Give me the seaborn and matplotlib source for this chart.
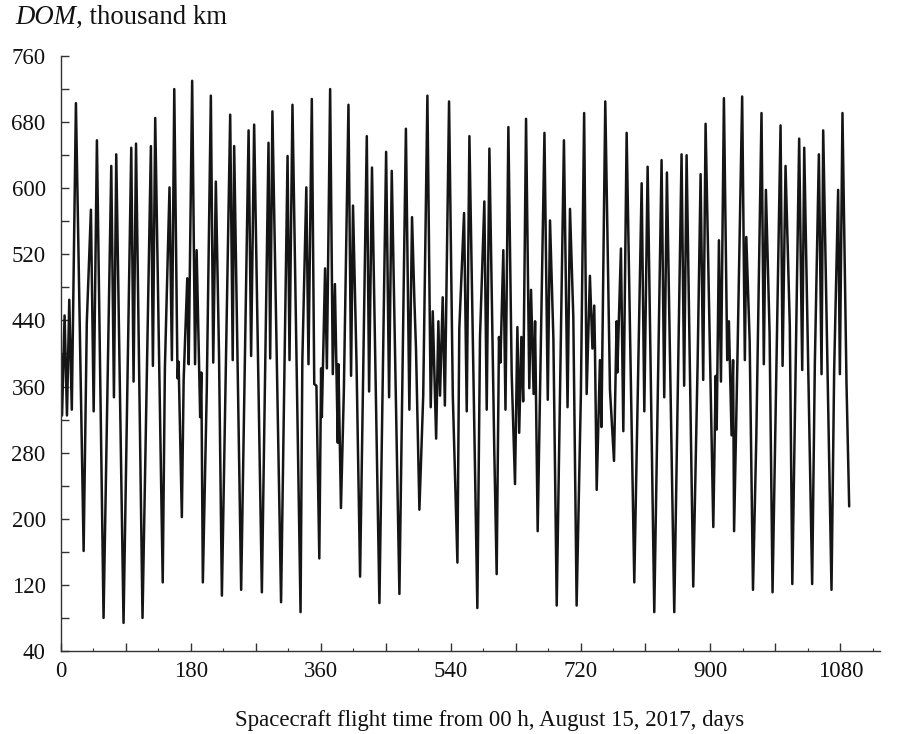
import matplotlib
matplotlib.use("Agg")
import matplotlib.pyplot as plt
import seaborn as sns
import pandas as pd

# turning points of the distance curve (day, thousand km)
days = [
    0, 1.5, 5, 8.3, 11.5, 15, 20.7, 31.4, 35.8, 41.5, 45.3, 49.8, 59, 69.7, 73.4, 76.6,
    86.7, 97.4, 100.6, 104, 113, 124.6, 127.4, 130.6, 141, 144, 150.4, 153.7, 157,
    161.5, 163, 167.5, 170, 175, 177, 181.8, 185.8, 188, 192.9, 194.5, 196.6, 202,
    207.7, 211, 214.6, 219, 223, 234.5, 238, 240, 249.7, 260, 263.5, 267.7, 278.4,
    287.6, 289.9, 293, 305, 314, 316.7, 320.8, 332, 334.5, 340, 343, 347.6, 351, 354,
    358, 360.5, 361.5, 366, 368.5, 373, 376.7, 379.6, 383.6, 384.5, 388, 392, 398.4,
    402, 404.7, 409.6, 414.5, 423.8, 427, 431, 441.3, 450.6, 454.7, 458.4, 469, 478,
    482.8, 486.5, 489.8, 492, 496.7, 502, 507.8, 512.4, 515.2, 519.9, 523, 525.3, 529,
    532, 537.8, 543, 549.4, 552, 558.6, 562.3, 566, 577, 580.7, 586.7, 590, 593.7,
    600.5, 603.8, 607, 609, 613, 616, 620, 624.6, 629.2, 632.5, 635, 638, 640.5, 644.5,
    649, 651.4, 655, 657, 660.6, 670, 674.6, 677.7, 682.4, 687, 697, 702, 705.4, 710,
    714.6, 720.5, 725, 728.5, 733, 736.5, 739, 740, 742.4, 746.9, 749, 754.3, 760.8,
    766.4, 770, 771, 776, 779.3, 783.9, 794.5, 800, 804.7, 808.4, 813, 822.2, 832.3,
    836, 839.7, 849.9, 860, 863.6, 867, 876.2, 882.2, 886.4, 890, 893.3, 904, 907.3,
    908.7, 911.8, 914.6, 918.7, 923.3, 925.6, 929.3, 931.4, 932.8, 937.3, 944, 947.7,
    949.7, 954.4, 959, 963.6, 970.8, 974, 976.9, 982, 986.1, 997.2, 1000, 1004.1,
    1010, 1013.5, 1023, 1027.2, 1030, 1041, 1044.7, 1050.3, 1054, 1056.3, 1067.8,
    1071.5, 1077, 1079.4, 1083, 1088.6, 1092.3,
]
dom = [
    400, 325, 446, 325, 465, 332, 703, 161, 438, 574, 330, 658, 80, 627, 347, 641,
    74, 649, 366, 654, 80, 651, 385, 685, 123, 382, 601, 392, 720,
    370, 390, 202, 368, 491, 387, 730, 387, 525, 323, 377, 123, 354,
    712, 389, 608, 400, 107, 689, 392, 651, 114, 670, 397, 677, 111,
    655, 394, 693, 99, 639, 392, 701, 87, 392, 601, 387, 708, 363, 361,
    152, 382, 323, 503, 382, 720, 375, 484, 292, 387, 213, 354, 701,
    373, 579, 387, 130, 663, 354, 625, 98, 644, 347, 621, 109, 672,
    332, 565, 463, 406, 211, 349, 712, 335, 451, 297, 439, 349, 468,
    337, 705, 349, 147, 430, 570, 330, 663, 92, 420, 584, 332, 648,
    282, 133, 420, 389, 525, 332, 674, 375, 242, 432, 304, 420, 342, 684,
    358, 477, 351, 439, 185, 667, 344, 561, 418, 95, 658, 335, 575, 444,
    95, 351, 691, 351, 494, 406, 458, 406, 235, 392, 311, 705, 356,
    270, 439, 377, 527, 306, 667, 123, 387, 606, 330, 626, 87, 634,
    347, 619, 87, 641, 361, 640, 118, 385, 617, 368, 678, 190, 373,
    308, 537, 366, 709, 392, 439, 301, 392, 185, 387, 711, 392,
    541, 415, 114, 299, 691, 387, 598, 425, 111, 676, 385, 627,
    434, 121, 660, 380, 649, 121, 387, 641, 375, 670, 114,
    380, 598, 375, 691, 363, 215,
]

x_ticks = list(range(0, 1081, 90))
x_labels = [str(t) if t % 180 == 0 else "" for t in x_ticks]
y_ticks = list(range(40, 761, 40))
y_labels = [str(t) if (t - 40) % 80 == 0 else "" for t in y_ticks]

df = pd.DataFrame({"day": days, "dom": dom})

sns.set_style("ticks")
plt.rcParams["font.family"] = ["Liberation Serif", "DejaVu Serif"]

fig = plt.figure(figsize=(9.02, 7.34), dpi=100)
ax = fig.add_axes([0.0676, 0.1131, 0.9080, 0.8106])

sns.lineplot(data=df, x="day", y="dom", sort=False, estimator=None,
             color="#151515", linewidth=1.8, ax=ax)

ax.set_xlim(0, 1135)
ax.set_ylim(40, 760)
ax.set_xticks(x_ticks)
ax.set_xticklabels(x_labels)
ax.set_xticks(list(range(45, 1135, 90)), minor=True)
ax.set_yticks(y_ticks)
ax.set_yticklabels(y_labels)
ax.tick_params(axis="both", which="major", direction="in", length=6, width=1,
               labelsize=16.5, color="#333333", labelcolor="#111111")
ax.tick_params(axis="x", which="minor", direction="in", length=2.5, width=0.8,
               color="#333333")
ax.tick_params(axis="x", which="major", pad=7)
ax.tick_params(axis="y", which="major", pad=11)
for side in ["left", "bottom"]:
    ax.spines[side].set_color("#333333")
    ax.spines[side].set_linewidth(1.0)
sns.despine(ax=ax)
ax.set_xlabel("")
ax.set_ylabel("")

# axis captions
t1 = fig.text(15 / 902, 1 - 24 / 734, "DOM", fontsize=19.3, style="italic",
              color="#111111", va="baseline")
ax.annotate(", thousand km", xy=(1, 0), xycoords=t1, va="bottom",
            fontsize=19.3, color="#111111")
fig.text(490 / 902, 1 - 726 / 734, "Spacecraft flight time from 00 h, August 15, 2017, days",
         fontsize=16.5, ha="center", va="baseline", color="#111111")

fig.savefig("out.png", dpi=100)
